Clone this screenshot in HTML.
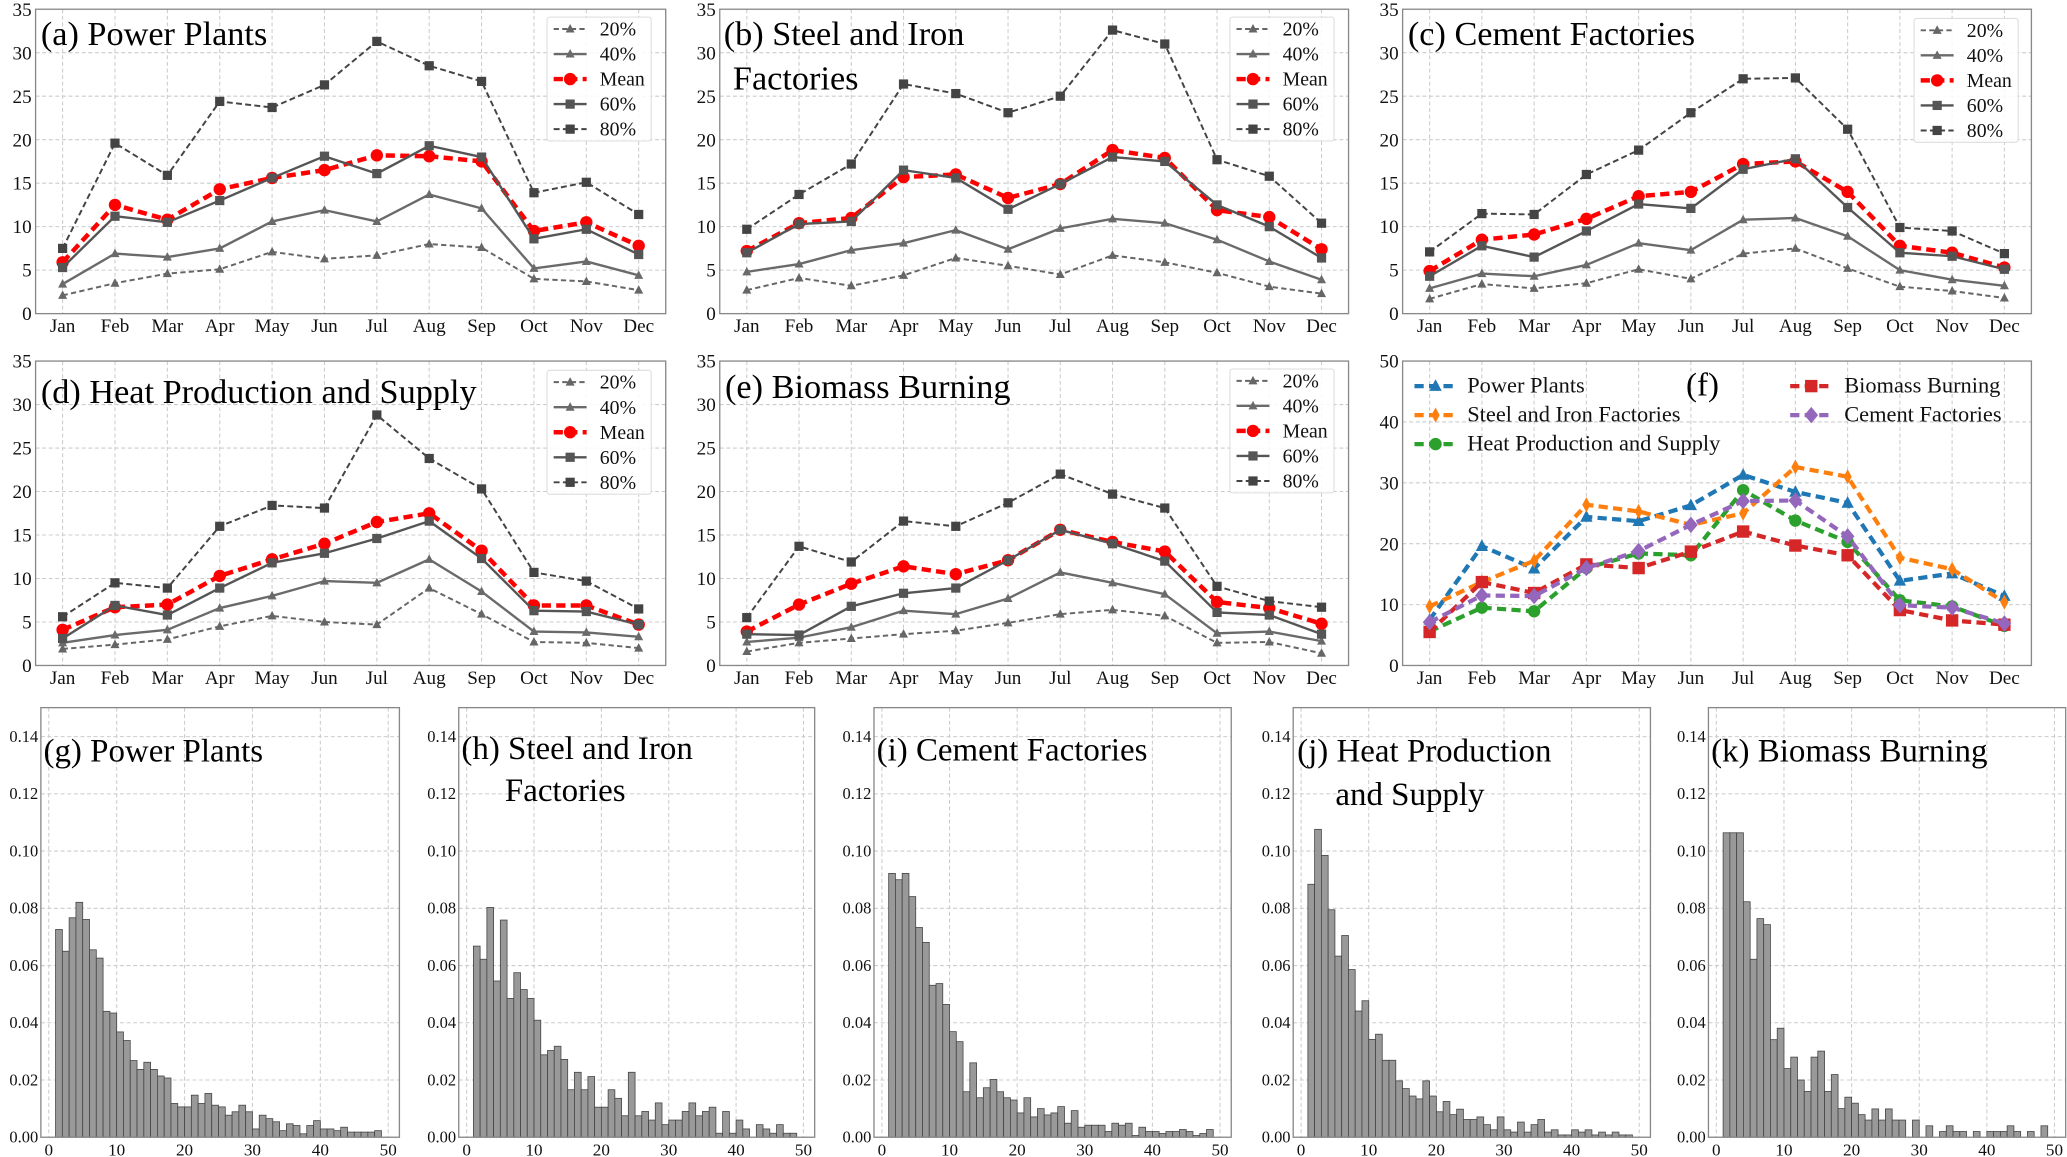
<!DOCTYPE html>
<html><head><meta charset="utf-8">
<style>
html,body{margin:0;padding:0;background:#fff;}
svg{display:block;}
text{font-family:"Liberation Serif",serif;}
</style></head>
<body>
<svg id="fig" width="2067" height="1157" viewBox="0 0 1568 878" preserveAspectRatio="none" xmlns="http://www.w3.org/2000/svg"></svg>
<script>
const months = ["Jan","Feb","Mar","Apr","May","Jun","Jul","Aug","Sep","Oct","Nov","Dec"];
const seriesLabels = ["20%","40%","Mean","60%","80%"];
// (a) Power Plants
const a20 = [2.1,3.5,4.6,5.1,7.1,6.3,6.7,8.0,7.6,4.0,3.7,2.7];
const a40 = [3.4,6.9,6.5,7.5,10.6,11.9,10.6,13.7,12.1,5.2,6.0,4.4];
const aMean = [5.9,12.5,10.8,14.3,15.6,16.5,18.2,18.1,17.5,9.5,10.5,7.8];
const a60 = [5.3,11.2,10.5,13.0,15.6,18.1,16.1,19.3,18.0,8.6,9.7,6.8];
const a80 = [7.5,19.6,15.9,24.4,23.7,26.3,31.3,28.5,26.7,13.9,15.1,11.4];
// (b) Steel and Iron
const b20 = [2.7,4.1,3.2,4.4,6.4,5.5,4.5,6.7,5.9,4.7,3.1,2.3];
const b40 = [4.8,5.7,7.3,8.1,9.6,7.4,9.8,10.9,10.4,8.5,6.0,3.9];
const bMean = [7.2,10.4,11.0,15.7,16.0,13.3,14.9,18.8,17.9,11.9,11.1,7.4];
const b60 = [7.0,10.3,10.6,16.5,15.6,12.0,14.9,18.0,17.5,12.5,10.0,6.4];
const b80 = [9.7,13.7,17.2,26.4,25.3,23.1,25.0,32.6,31.0,17.7,15.8,10.4];
// (c) Cement
const c20 = [1.7,3.4,2.9,3.5,5.1,4.0,6.9,7.5,5.2,3.1,2.6,1.8];
const c40 = [2.9,4.6,4.3,5.6,8.1,7.3,10.8,11.0,8.9,5.0,3.9,3.2];
const cMean = [4.9,8.5,9.1,10.9,13.5,14.0,17.2,17.5,14.0,7.8,7.0,5.3];
const c60 = [4.3,7.8,6.5,9.5,12.6,12.1,16.6,17.8,12.2,7.0,6.6,5.1];
const c80 = [7.1,11.5,11.4,16.0,18.8,23.1,27.0,27.1,21.2,9.9,9.5,6.9];
// (d) Heat
const d20 = [1.9,2.4,3.0,4.5,5.7,5.0,4.7,8.9,5.9,2.7,2.6,2.0];
const d40 = [2.6,3.5,4.1,6.6,8.0,9.7,9.5,12.2,8.5,3.9,3.8,3.3];
const dMean = [4.1,6.7,7.0,10.3,12.2,14.0,16.5,17.5,13.2,6.9,6.9,4.7];
const d60 = [3.1,6.9,5.8,8.9,11.8,12.9,14.6,16.6,12.3,6.3,6.2,4.7];
const d80 = [5.6,9.5,8.9,16.0,18.4,18.1,28.8,23.8,20.3,10.7,9.7,6.5];
// (e) Biomass
const e20 = [1.6,2.6,3.1,3.6,4.0,4.9,5.9,6.4,5.7,2.6,2.7,1.4];
const e40 = [2.7,3.2,4.4,6.3,5.9,7.7,10.7,9.5,8.2,3.7,3.9,2.8];
const eMean = [3.9,7.0,9.4,11.4,10.5,12.1,15.6,14.2,13.1,7.3,6.6,4.8];
const e60 = [3.6,3.5,6.8,8.3,8.9,12.1,15.6,14.0,12.0,6.1,5.8,3.6];
const e80 = [5.5,13.7,11.9,16.6,16.0,18.7,22.0,19.7,18.1,9.1,7.4,6.7];
// (f) comparison
const fLabels = ["Power Plants","Steel and Iron Factories","Heat Production and Supply","Biomass Burning","Cement Factories"];
const fPower = [7.5,19.6,15.9,24.4,23.7,26.3,31.3,28.5,26.7,13.9,15.1,11.4];
const fSteel = [9.7,13.7,17.2,26.4,25.3,23.1,25.0,32.6,31.0,17.7,15.8,10.4];
const fHeat = [5.6,9.5,8.9,16.0,18.4,18.1,28.8,23.8,20.3,10.7,9.7,6.5];
const fBiomass = [5.5,13.7,11.9,16.6,16.0,18.7,22.0,19.7,18.1,9.1,7.4,6.7];
const fCement = [7.1,11.5,11.4,16.0,18.8,23.1,27.0,27.1,21.2,9.9,9.5,6.9];
const lineTicks = [0,5,10,15,20,25,30,35];
const fTicks = [0,10,20,30,40,50];
// histograms (bins 1..48, width 1)
const histTicksY = ["0.00","0.02","0.04","0.06","0.08","0.10","0.12","0.14"];
const histTicksX = [0,10,20,30,40,50];
const hPower = [0.0726,0.065,0.0767,0.0821,0.0761,0.0655,0.0626,0.044,0.0434,0.0368,0.0338,0.0268,0.0237,0.0262,0.0237,0.0214,0.0207,0.0118,0.0106,0.0106,0.0147,0.0118,0.0153,0.0112,0.0106,0.0077,0.0089,0.0112,0.0089,0.0029,0.0077,0.0065,0.0054,0.0023,0.0047,0.0041,0.0012,0.0041,0.0058,0.0029,0.0029,0.0023,0.0035,0.0018,0.0018,0.0018,0.0018,0.0023];
const hSteel = [0.0668,0.0622,0.0803,0.0546,0.0759,0.0485,0.0575,0.0516,0.0485,0.0409,0.0288,0.0303,0.0318,0.0272,0.0166,0.0227,0.0166,0.0212,0.0105,0.0105,0.0166,0.0136,0.0075,0.0227,0.0075,0.009,0.006,0.012,0.0044,0.006,0.006,0.009,0.012,0.0075,0.009,0.0105,0.0014,0.009,0.0014,0.006,0.0029,0,0.0044,0.0029,0.0014,0.0044,0.0014,0.0014];
const hCement = [0.0922,0.09,0.0922,0.0841,0.0733,0.0681,0.0531,0.0537,0.0464,0.0369,0.0334,0.0159,0.026,0.0138,0.0173,0.0202,0.0159,0.0138,0.013,0.0085,0.0138,0.0071,0.01,0.0078,0.0085,0.0107,0.0049,0.0093,0.0035,0.0042,0.0042,0.0042,0.002,0.0049,0.0042,0.0049,0.0006,0.0035,0.002,0.002,0.0013,0.002,0.002,0.0027,0.002,0.0006,0.0013,0.0027];
const hHeat = [0.0884,0.1076,0.0985,0.0795,0.0633,0.0705,0.0586,0.0441,0.0477,0.0342,0.036,0.0269,0.0269,0.0197,0.017,0.0144,0.0134,0.0197,0.0144,0.0089,0.0125,0.0079,0.0098,0.0062,0.0062,0.0071,0.0044,0.0026,0.0071,0.0026,0.0018,0.0053,0.0018,0.0044,0.0062,0.0018,0.0026,0.0008,0.0008,0.0026,0.0018,0.0026,0.0008,0.0018,0.0008,0.0018,0.0008,0.0008];
const hBiomass = [0.1064,0.1064,0.1064,0.0823,0.0622,0.0764,0.0743,0.0341,0.0381,0.024,0.028,0.02,0.016,0.028,0.0301,0.016,0.0219,0.01,0.014,0.0119,0.0079,0.006,0.0099,0.006,0.0099,0.006,0.006,0,0.006,0,0.004,0,0.002,0.004,0.002,0.002,0,0.002,0,0.002,0.002,0.002,0.004,0.002,0,0.002,0,0.004];

const NS="http://www.w3.org/2000/svg";
const svg=document.getElementById('fig');
function el(tag,attrs,parent,txt){const e=document.createElementNS(NS,tag);for(const k in attrs)e.setAttribute(k,attrs[k]);if(txt!==undefined)e.textContent=txt;(parent||svg).appendChild(e);return e;}

function marker(g,shape,x,y,s,fill){
  let m;
  if(shape==='tri'){m=el('polygon',{points:`${x},${y-s} ${x-s*0.9},${y+s*0.7} ${x+s*0.9},${y+s*0.7}`,fill:fill},g);}
  else if(shape==='sq'){m=el('rect',{x:x-s,y:y-s,width:2*s,height:2*s,fill:fill},g);}
  else if(shape==='circ'){m=el('circle',{cx:x,cy:y,r:s,fill:fill},g);}
  else if(shape==='dia'){m=el('polygon',{points:`${x},${y-s*1.2} ${x+s},${y} ${x},${y+s*1.2} ${x-s},${y}`,fill:fill},g);}
  else if(shape==='thin'){m=el('polygon',{points:`${x},${y-s*1.1} ${x+s*0.6},${y} ${x},${y+s*1.1} ${x-s*0.6},${y}`,fill:fill},g);}
  return m;
}

function axesFrame(name){
  const g=el('g',{},svg);
  
  
  return g;
}

function linePanel(name,L,R,T,B,ymax,yticks,series,styles,titleLines,legendBox,legendCfg){
  const g=axesFrame(name);
  const x0=L+20.5, x1=R-20.5;
  const X=i=>x0+(x1-x0)*i/11;
  const Y=v=>B-(B-T)*v/ymax;
  months.forEach((m,i)=>{
    const gl=el('line',{x1:X(i),x2:X(i),y1:T,y2:B,stroke:'#ccc','stroke-width':0.8,'stroke-dasharray':'3,2'},g);
    
    
    const t=el('text',{x:X(i),y:B+14,'font-size':14.5,'text-anchor':'middle',fill:'#111'},g,m);
    
    
  });
  yticks.forEach(v=>{
    if(v>0&&v<ymax){const gl=el('line',{x1:L,x2:R,y1:Y(v),y2:Y(v),stroke:'#ccc','stroke-width':0.8,'stroke-dasharray':'3,2'},g);
    
    }
    const t=el('text',{x:L-3,y:Y(v)+5,'font-size':14.5,'text-anchor':'end',fill:'#111'},g,String(v));
    
    
  });
  const fr=el('rect',{x:L,y:T,width:R-L,height:B-T,fill:'none',stroke:'#888','stroke-width':1},g);
  
  
  series.forEach((vals,si)=>{
    const st=styles[si];
    const sg=el('g',{},g);
    
    
    const pts=vals.map((v,i)=>X(i)+','+Y(v)).join(' ');
    const pl=el('polyline',{points:pts,fill:'none',stroke:st.color,'stroke-width':st.w,'stroke-dasharray':st.dash||'none','stroke-linejoin':'round'},sg);
    
    
    vals.forEach((v,i)=>{
      const mk=marker(sg,st.shape,X(i),Y(v),st.ms,st.color);
      
      
    });
  });
  titleLines.forEach(tl=>{
    const t=el('text',{x:tl[0],y:tl[1],'font-size':tl[2]||25,fill:'#000'},g,tl[3]);
    
    
  });
  if(legendBox){
    const lb=el('rect',{x:legendBox[0],y:legendBox[1],width:legendBox[2],height:legendBox[3],fill:'#fff','fill-opacity':0.85,stroke:'#ddd','stroke-width':0.8,rx:2},g);
    
    
  }
  legendCfg.forEach(lc=>{
    const st=styles[lc.i];
    const lg=el('g',{},g);
    
    
    el('line',{x1:lc.x,x2:lc.x+lc.len,y1:lc.y,y2:lc.y,stroke:st.color,'stroke-width':st.w,'stroke-dasharray':st.dash||'none'},lg);
    marker(lg,st.shape,lc.x+lc.len/2,lc.y,st.ms,st.color);
    el('text',{x:lc.x+lc.len+lc.gap,y:lc.y+5,'font-size':lc.fs,fill:'#111'},lg,lc.label);
  });
}

const pStyles=[
  {key:'p20',color:'#666',w:1.5,dash:'4,2.5',shape:'tri',ms:3.8},
  {key:'p40',color:'#6a6a6a',w:1.8,dash:null,shape:'tri',ms:3.8},
  {key:'mean',color:'#ff0000',w:3.4,dash:'7,4',shape:'circ',ms:4.7},
  {key:'p60',color:'#555',w:1.8,dash:null,shape:'sq',ms:3.5},
  {key:'p80',color:'#444',w:1.5,dash:'4.5,2.5',shape:'sq',ms:3.5}
];
function pctLegend(lx,ly){return seriesLabels.map((lab,i)=>({i:i,x:lx,y:ly+i*19,len:25,gap:10,fs:15,label:lab}));}

linePanel('panel-a-power-plants',27,505,7,238,35,lineTicks,[a20,a40,aMean,a60,a80],pStyles,
  [[31,34,26,'(a) Power Plants']],[415,13,79,94],pctLegend(420,22));
linePanel('panel-b-steel-iron',546,1023,7,238,35,lineTicks,[b20,b40,bMean,b60,b80],pStyles,
  [[549,34,26,'(b) Steel and Iron'],[556,68,26,'Factories']],[933,13,79,94],pctLegend(938,22));
linePanel('panel-c-cement',1064,1541,7,238,35,lineTicks,[c20,c40,cMean,c60,c80],pStyles,
  [[1068,34,26,'(c) Cement Factories']],[1452,14,79,94],pctLegend(1457,23));
linePanel('panel-d-heat',27,505,274,505,35,lineTicks,[d20,d40,dMean,d60,d80],pStyles,
  [[31,306,26,'(d) Heat Production and Supply']],[415,281,79,94],pctLegend(420,290));
linePanel('panel-e-biomass',546,1023,274,505,35,lineTicks,[e20,e40,eMean,e60,e80],pStyles,
  [[550,302,26,'(e) Biomass Burning']],[933,280,79,94],pctLegend(938,289));

const fStyles=[
  {key:'power',color:'#1f77b4',w:3.2,dash:'7,4',shape:'tri',ms:5.2},
  {key:'steel',color:'#ff7f0e',w:3.2,dash:'7,4',shape:'thin',ms:5.2},
  {key:'heat',color:'#2ca02c',w:3.2,dash:'7,4',shape:'circ',ms:4.7},
  {key:'biomass',color:'#d62728',w:3.2,dash:'7,4',shape:'sq',ms:4.7},
  {key:'cement',color:'#9467bd',w:3.2,dash:'7,4',shape:'dia',ms:5.2}
];
linePanel('panel-f-comparison',1064,1541,274,505,50,fTicks,[fPower,fSteel,fHeat,fBiomass,fCement],fStyles,
  [[1279,300,25,'(f)']],null,[
    {i:0,x:1073,y:293,len:32,gap:8,fs:17,label:fLabels[0]},
    {i:1,x:1073,y:315,len:32,gap:8,fs:17,label:fLabels[1]},
    {i:2,x:1073,y:337,len:32,gap:8,fs:17,label:fLabels[2]},
    {i:3,x:1358,y:293,len:32,gap:9,fs:17,label:fLabels[3]},
    {i:4,x:1358,y:315,len:32,gap:9,fs:17,label:fLabels[4]}
  ]);

function histPanel(name,L,R,vals,titleLines){
  const T=537,B=863;
  const g=axesFrame(name);
  const x0=L+6, x1=R-8.5;
  const X=v=>x0+(x1-x0)*v/50;
  const Y=v=>B-(B-559)*v/0.14;
  histTicksX.forEach(v=>{
    const gl=el('line',{x1:X(v),x2:X(v),y1:T,y2:B,stroke:'#ccc','stroke-width':0.8,'stroke-dasharray':'3,2'},g);
    
    
    const t=el('text',{x:X(v),y:B+14,'font-size':13,'text-anchor':'middle',fill:'#111','font-family':'DejaVu Serif, serif'},g,String(v));
    
    
  });
  histTicksY.forEach(s=>{
    const v=parseFloat(s);
    if(v>0){const gl=el('line',{x1:L,x2:R,y1:Y(v),y2:Y(v),stroke:'#ccc','stroke-width':0.8,'stroke-dasharray':'3,2'},g);
    
    }
    const t=el('text',{x:L-2,y:Y(v)+4,'font-size':12.5,'text-anchor':'end',fill:'#111','font-family':'DejaVu Serif, serif'},g,s);
    
    
  });
  vals.forEach((v,i)=>{
    if(v<=0)return;
    const b=el('rect',{x:X(i+1),y:Y(v),width:X(i+2)-X(i+1),height:B-Y(v),fill:'#999',stroke:'#444','stroke-width':0.6},g);
    
    
  });
  const fr=el('rect',{x:L,y:T,width:R-L,height:B-T,fill:'none',stroke:'#888','stroke-width':1},g);
  
  
  titleLines.forEach(tl=>{
    const t=el('text',{x:tl[0],y:tl[1],'font-size':25,fill:'#000'},g,tl[2]);
    
    
  });
}
histPanel('panel-g-hist-power',31,303,hPower,[[33,578,'(g) Power Plants']]);
histPanel('panel-h-hist-steel',348,618,hSteel,[[350,576,'(h) Steel and Iron'],[383,608,'Factories']]);
histPanel('panel-i-hist-cement',663,934,hCement,[[665,577,'(i) Cement Factories']]);
histPanel('panel-j-hist-heat',981,1252,hHeat,[[984,578,'(j) Heat Production'],[1013,611,'and Supply']]);
histPanel('panel-k-hist-biomass',1296,1567,hBiomass,[[1298,578,'(k) Biomass Burning']]);
</script>
</body></html>
